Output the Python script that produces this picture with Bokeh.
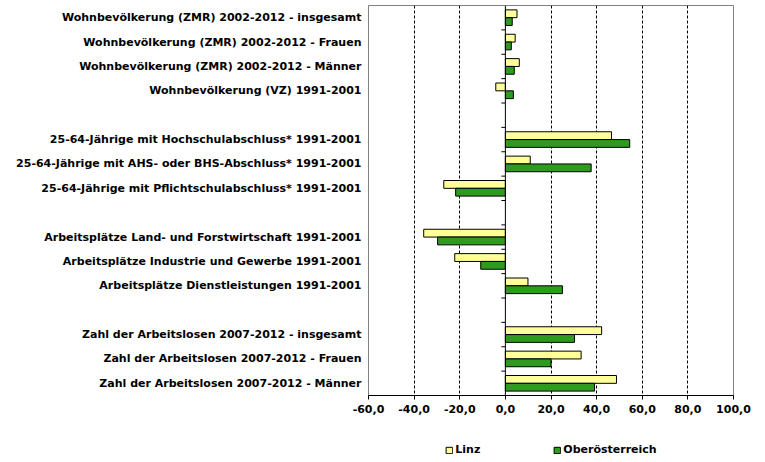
from bokeh.plotting import figure
from bokeh.layouts import column
from bokeh.models import (ColumnDataSource, Range1d, FixedTicker, Span, Legend, LegendItem)
from bokeh.embed import file_html
from bokeh.resources import INLINE

# ---- data (None = empty spacer row) ----
categories = [
    "Wohnbevölkerung (ZMR) 2002-2012 - insgesamt",
    "Wohnbevölkerung (ZMR) 2002-2012 - Frauen",
    "Wohnbevölkerung (ZMR) 2002-2012 - Männer",
    "Wohnbevölkerung (VZ) 1991-2001",
    "",
    "25-64-Jährige mit Hochschulabschluss* 1991-2001",
    "25-64-Jährige mit AHS- oder BHS-Abschluss* 1991-2001",
    "25-64-Jährige mit Pflichtschulabschluss* 1991-2001",
    "",
    "Arbeitsplätze Land- und Forstwirtschaft 1991-2001",
    "Arbeitsplätze Industrie und Gewerbe 1991-2001",
    "Arbeitsplätze Dienstleistungen 1991-2001",
    "",
    "Zahl der Arbeitslosen 2007-2012 - insgesamt",
    "Zahl der Arbeitslosen 2007-2012 - Frauen",
    "Zahl der Arbeitslosen 2007-2012 - Männer",
]
linz = [5.1, 4.3, 6.1, -4.2, None, 46.5, 10.9, -27.0, None,
        -35.8, -22.2, 9.9, None, 42.2, 33.2, 48.7]
ooe = [3.0, 2.6, 3.9, 3.5, None, 54.5, 37.6, -21.8, None,
       -29.7, -10.8, 25.0, None, 30.3, 20.0, 39.1]
x_ticks = [-60, -40, -20, 0, 20, 40, 60, 80, 100]
x_tick_labels = ["-60,0", "-40,0", "-20,0", "0,0", "20,0", "40,0", "60,0", "80,0", "100,0"]
series_names = ["Linz", "Oberösterreich"]
colors = ["#FFFF99", "#2E9A1E"]

FONT = "DejaVu Sans"
n = len(categories)
bw = 0.32

p = figure(width=765, height=428, output_backend="svg", toolbar_location=None,
           x_range=Range1d(-60, 100), y_range=Range1d(n, 0),
           min_border_left=368, min_border_right=32, min_border_top=5,
           min_border_bottom=33)
p.outline_line_color = "#808080"
p.background_fill_color = "white"
p.border_fill_color = "white"

rows_l = [i for i, v in enumerate(linz) if v is not None]
rows_o = [i for i, v in enumerate(ooe) if v is not None]
src_l = ColumnDataSource(dict(y=[i + 0.5 - bw / 2 for i in rows_l], v=[linz[i] for i in rows_l]))
src_o = ColumnDataSource(dict(y=[i + 0.5 + bw / 2 for i in rows_o], v=[ooe[i] for i in rows_o]))
p.hbar(y="y", left=0, right="v", height=bw, source=src_l,
       fill_color=colors[0], line_color="black", line_width=1)
p.hbar(y="y", left=0, right="v", height=bw, source=src_o,
       fill_color=colors[1], line_color="black", line_width=1)

# zero line and category ticks on it
p.add_layout(Span(location=0, dimension="height", line_color="black", line_width=1))
b = list(range(1, n))
p.segment(x0=[0] * len(b), x1=[-1.75] * len(b), y0=b, y1=b, line_color="black", line_width=1)

# x axis
p.xaxis.ticker = FixedTicker(ticks=x_ticks)
p.xaxis.major_label_overrides = {t: l for t, l in zip(x_ticks, x_tick_labels)}
p.xaxis.axis_line_color = "black"
p.xaxis.major_tick_line_color = "black"
p.xaxis.major_tick_out = 4
p.xaxis.major_tick_in = 0
p.xaxis.minor_tick_line_color = None
p.xaxis.major_label_standoff = 5
p.xaxis.major_label_text_font = FONT
p.xaxis.major_label_text_font_style = "bold"
p.xaxis.major_label_text_font_size = "11px"
p.xaxis.major_label_text_color = "black"

# grid
p.xgrid.ticker = FixedTicker(ticks=[t for t in x_ticks if t not in (x_ticks[0], 0, x_ticks[-1])])
p.xgrid.grid_line_color = "black"
p.xgrid.grid_line_dash = "3 2"
p.ygrid.grid_line_color = None

# y axis (category labels)
p.yaxis.ticker = FixedTicker(ticks=[i + 0.5 for i in range(n)])
p.yaxis.major_label_overrides = {i + 0.5: c for i, c in enumerate(categories)}
p.yaxis.axis_line_color = None
p.yaxis.major_tick_line_color = None
p.yaxis.major_tick_out = 0
p.yaxis.major_tick_in = 0
p.yaxis.minor_tick_line_color = None
p.yaxis.major_label_standoff = 7
p.yaxis.major_label_text_font = FONT
p.yaxis.major_label_text_font_style = "bold"
p.yaxis.major_label_text_font_size = "11px"
p.yaxis.major_label_text_color = "black"

# legend strip below the chart (same series, drawn out of view; only the legend shows)
lg = figure(width=765, height=34, output_backend="svg", toolbar_location=None,
            x_range=Range1d(-60, 100), y_range=Range1d(1000, 1001),
            min_border_left=368, min_border_right=32, min_border_top=0,
            min_border_bottom=0)
lg.axis.visible = False
lg.grid.visible = False
lg.outline_line_color = None
lg.border_fill_color = "white"
e1 = lg.hbar(y="y", left=0, right="v", height=bw, source=src_l,
             fill_color=colors[0], line_color="black", line_width=1)
e2 = lg.hbar(y="y", left=0, right="v", height=bw, source=src_o,
             fill_color=colors[1], line_color="black", line_width=1)
legend = Legend(items=[LegendItem(label=series_names[0], renderers=[e1]),
                       LegendItem(label=series_names[1], renderers=[e2])],
                orientation="horizontal", location="bottom_center")
legend.border_line_color = None
legend.background_fill_alpha = 0
legend.glyph_width = 8
legend.glyph_height = 8
legend.spacing = 72
legend.label_standoff = 3
legend.padding = 2
legend.margin = 6
legend.label_text_font = FONT
legend.label_text_font_style = "bold"
legend.label_text_font_size = "11px"
legend.label_text_color = "black"
lg.add_layout(legend, "center")

layout = column(p, lg, spacing=0)
open("out.html", "w").write(file_html(layout, INLINE))
